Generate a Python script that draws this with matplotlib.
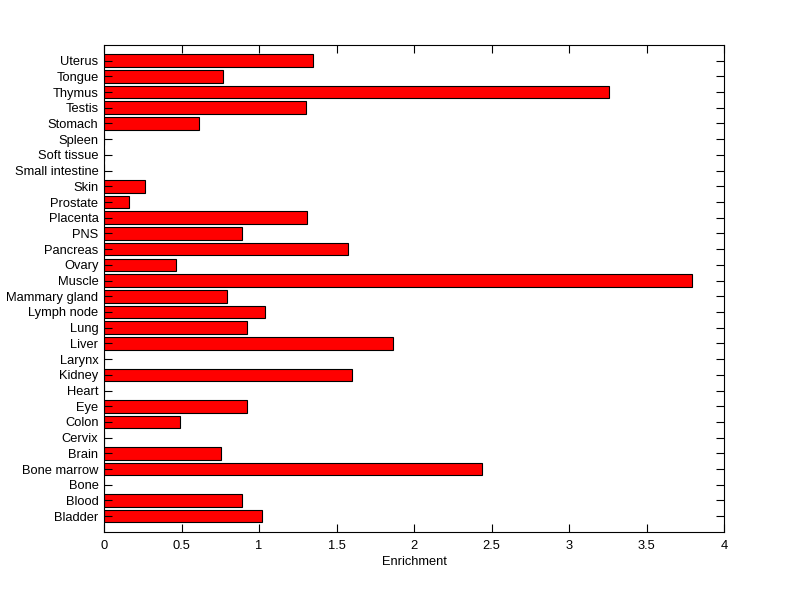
import matplotlib
matplotlib.use("Agg")
import matplotlib.pyplot as plt

tissues = ["Bladder", "Blood", "Bone", "Bone marrow", "Brain", "Cervix", "Colon", "Eye",
           "Heart", "Kidney", "Larynx", "Liver", "Lung", "Lymph node", "Mammary gland",
           "Muscle", "Ovary", "Pancreas", "PNS", "Placenta", "Prostate", "Skin",
           "Small intestine", "Soft tissue", "Spleen", "Stomach", "Testis", "Thymus",
           "Tongue", "Uterus"]
enrichment = [1.019, 0.893, 0.0, 2.439, 0.755, 0.0, 0.49, 0.923,
              0.0, 1.60, 0.0, 1.865, 0.923, 1.039, 0.794,
              3.794, 0.465, 1.574, 0.89, 1.31, 0.161, 0.265,
              0.0, 0.0, 0.0, 0.613, 1.303, 3.258,
              0.768, 1.348]
xticks = [0, 0.5, 1, 1.5, 2, 2.5, 3, 3.5, 4]
xticklabels = ["0", "0.5", "1", "1.5", "2", "2.5", "3", "3.5", "4"]

plt.rcParams['font.family'] = ['Liberation Sans', 'DejaVu Sans']
fig = plt.figure(figsize=(8, 5.99), dpi=100)
ax = fig.add_axes([0.13, 0.112, 0.775, 0.813])
pos = list(range(1, len(tissues) + 1))
ax.barh(pos, enrichment, height=0.8, color="#ff0000", edgecolor="black", linewidth=0.8)
ax.set_xlim(0, 4)
ax.set_ylim(0, len(tissues) + 1)
ax.set_yticks(pos)
ax.set_yticklabels(tissues, fontsize=9.3)
ax.set_xticks(xticks)
ax.set_xticklabels(xticklabels, fontsize=9.3)
ax.set_xlabel("Enrichment", fontsize=9.3, labelpad=3)
ax.tick_params(axis="y", direction="in", right=True, length=6, width=0.8, pad=4)
ax.tick_params(axis="x", direction="in", top=True, length=6, width=0.8, pad=6)
for s in ax.spines.values():
    s.set_linewidth(0.8)
fig.savefig("out.png", dpi=100)
